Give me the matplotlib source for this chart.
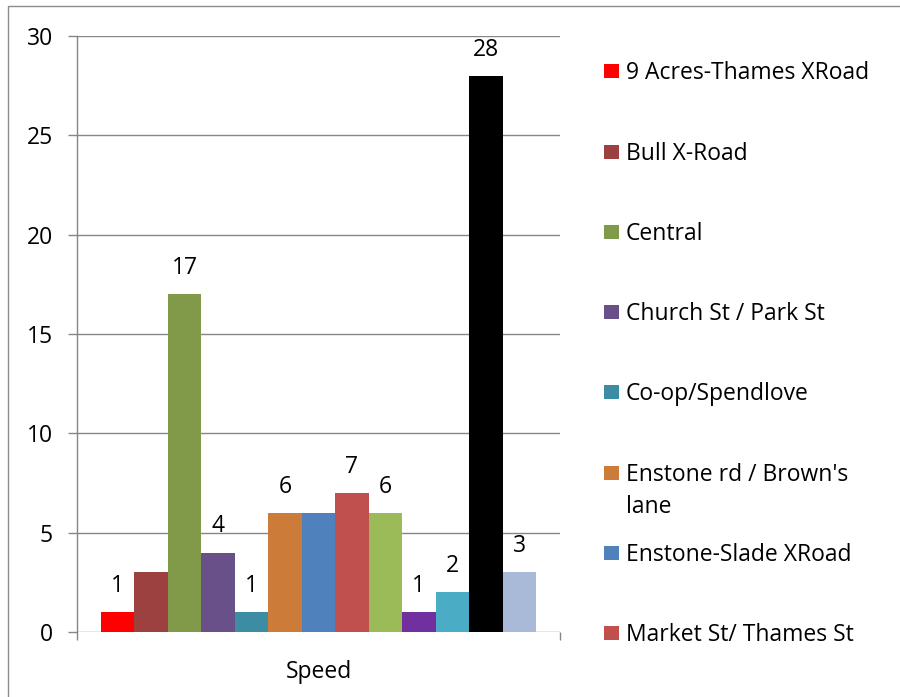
import matplotlib
matplotlib.use("Agg")
import matplotlib.pyplot as plt
from matplotlib.patches import Rectangle

plt.rcParams['font.family'] = ['Open Sans', 'DejaVu Sans']

# ---- data ----
categories = ["9 Acres-Thames XRoad", "Bull X-Road", "Central", "Church St / Park St",
              "Co-op/Spendlove", "Enstone rd / Brown's\nlane", "Enstone-Slade XRoad",
              "Market St/ Thames St", "Series 9", "Series 10", "Series 11", "Series 12", "Series 13"]
values = [1, 3, 17, 4, 1, 6, 6, 7, 6, 1, 2, 28, 3]
shown_labels = [True, False, True, True, True, True, False, True, True, True, True, True, True]
colors = ["#FF0000", "#9C4140", "#809A4A", "#6A5088", "#3C8DA3", "#CC7B38", "#4F81BD",
          "#C0504D", "#9BBB59", "#7030A0", "#4BACC6", "#000000", "#A9B9D8"]
group_label = "Speed"
yticks = [0, 5, 10, 15, 20, 25, 30]
legend_count = 8

FS = 16.5
W, H = 900, 697
fig = plt.figure(figsize=(W / 100, H / 100), dpi=100)
fig.patch.set_facecolor("white")

# outer chart border
fig.add_artist(Rectangle((8 / W, -0.05), 1.1, 1 - 6 / H + 0.05, transform=fig.transFigure,
                         fill=False, edgecolor="#8C8C8C", linewidth=1.0))

ax = fig.add_axes([77 / W, 1 - 632 / H, (560 - 77) / W, (632 - 36) / H])
n = len(values)
xs = list(range(n))
bars = ax.bar(xs, values, width=1.0, color=colors, linewidth=0, zorder=3)

pad_units = 24 / ((536 - 101) / n)
ax.set_xlim(-0.5 - pad_units, n - 0.5 + pad_units)
ax.set_ylim(0, 30)
ax.set_yticks(yticks)
ax.set_yticklabels([str(t) for t in yticks], fontsize=FS, color="black")
ax.yaxis.grid(True, color="#868686", linewidth=1.0, zorder=0)
ax.set_axisbelow(True)

for s in ["top", "right", "bottom"]:
    ax.spines[s].set_visible(False)
ax.spines["left"].set_color("#868686")
ax.spines["left"].set_linewidth(1.0)

ax.tick_params(axis="y", length=6.5, width=1.0, color="#868686", pad=11)
ax.set_xticks([(n - 1) / 2])
ax.set_xticklabels([group_label], fontsize=FS)
ax.tick_params(axis="x", length=0, pad=20)
ax.set_xticks([-0.5 - pad_units, n - 0.5 + pad_units], minor=True)
ax.tick_params(axis="x", which="minor", length=6, width=1.0, color="#868686")

for x, v, show in zip(xs, values, shown_labels):
    if show:
        ax.annotate(str(v), (x, v), xytext=(0, 14.5), textcoords="offset points",
                    ha="center", va="baseline", fontsize=FS, color="black")

# legend (manual, Excel-like layout)
legend_y = [71, 152, 232, 312, 392, 473, 553, 633]
for i in range(legend_count):
    yc = legend_y[i]
    fig.add_artist(Rectangle((604 / W, 1 - (yc + 7) / H), 15 / W, 14 / H,
                             transform=fig.transFigure, facecolor=colors[i],
                             edgecolor="none"))
    fig.text(626 / W, 1 - (yc - 10) / H, categories[i], ha="left", va="top",
             fontsize=FS, linespacing=1.42, color="black")

fig.savefig("out.png", dpi=100, facecolor="white")
